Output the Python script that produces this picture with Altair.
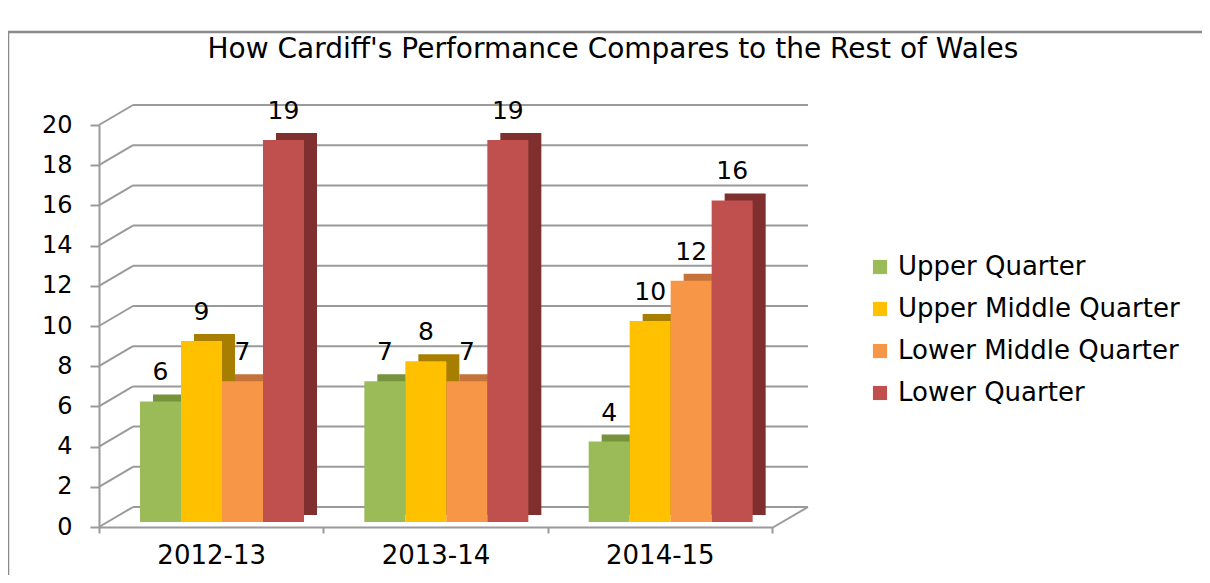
import altair as alt
import pandas as pd

# ---- data ----
years = ["2012-13", "2013-14", "2014-15"]
series = ["Upper Quarter", "Upper Middle Quarter", "Lower Middle Quarter", "Lower Quarter"]
upper_quarter = [6, 7, 4]
upper_middle_quarter = [9, 8, 10]
lower_middle_quarter = [7, 7, 12]
lower_quarter = [19, 19, 16]
y_ticks = [0, 2, 4, 6, 8, 10, 12, 14, 16, 18, 20]
title_text = "How Cardiff's Performance Compares to the Rest of Wales"

front_colors = ["#9BBB59", "#FFC000", "#F79646", "#C0504D"]
shade_colors = ["#77933C", "#A87E00", "#C5733A", "#7F302E"]

values = [upper_quarter, upper_middle_quarter, lower_middle_quarter, lower_quarter]
rows = []
for s, vals in zip(series, values):
    for y, v in zip(years, vals):
        rows.append({"year": y, "series": s, "value": v})
df = pd.DataFrame(rows)
ticks_df = pd.DataFrame({"tick": y_ticks})
title_df = pd.DataFrame({"t": [title_text]})

W, H = 673, 402
GRID = "#9A9A9A"
FONT = "DejaVu Sans"

yaxis = alt.Axis(title=None, values=y_ticks, labelFontSize=24, labelFont=FONT,
                 labelColor="black", labelPadding=18, tickSize=9, grid=False,
                 domainColor=GRID, tickColor=GRID, domainWidth=2, tickWidth=2)
yscale = alt.Scale(domain=[0, 20], nice=False)

xs = alt.X("year:N", sort=years, scale=alt.Scale(paddingInner=0, paddingOuter=0),
           axis=alt.Axis(title=None, labelFontSize=26, labelFont=FONT, labelColor="black",
                         labelPadding=9, tickSize=6, tickBand="extent", domainColor=GRID,
                         tickColor=GRID, domainWidth=2, tickWidth=2, labelAngle=0, grid=False))
ys = alt.Y("value:Q", scale=yscale, axis=yaxis)
ytick = alt.Y("tick:Q", scale=yscale, axis=yaxis)


def xoff(shift):
    return alt.XOffset("series:N", sort=series,
                       scale=alt.Scale(domain=series, paddingInner=0, paddingOuter=0,
                                       range=[41 + shift, 205 + shift]))


base = alt.Chart(df)

# decorative frame
frame = alt.Chart(title_df).mark_rect(fill=None, stroke="#8A8A8A", strokeWidth=2.5).encode(
    x=alt.value(-91), x2=alt.value(1200), y=alt.value(-93), y2=alt.value(600))

title = alt.Chart(title_df).mark_text(fontSize=28, font=FONT, color="black", align="center",
                                      baseline="alphabetic").encode(
    x=alt.value(514), y=alt.value(-67), text="t:N")

# back-wall gridlines
grid_back = alt.Chart(ticks_df).mark_rule(color=GRID, strokeWidth=2, yOffset=-20).encode(
    x=alt.value(34), x2=alt.value(709), y=ytick)
grid_diag = alt.Chart(ticks_df).mark_rule(color=GRID, strokeWidth=2, y2Offset=-20).encode(
    x=alt.value(0), x2=alt.value(34), y=ytick, y2="tick:Q")
floor_edge = alt.Chart(title_df).mark_rule(color=GRID, strokeWidth=2).encode(
    x=alt.value(W), x2=alt.value(709), y=alt.value(H + 1), y2=alt.value(H - 20))

shade = base.mark_bar(yOffset=-12, y2Offset=-12).encode(
    x=xs, xOffset=xoff(13), y=ys,
    color=alt.Color("series:N", scale=alt.Scale(domain=series, range=shade_colors), legend=None))

front = base.mark_bar(yOffset=-5, y2Offset=-5).encode(
    x=xs, xOffset=xoff(0), y=ys,
    color=alt.Color("series:N", sort=series, scale=alt.Scale(domain=series, range=front_colors),
                    legend=alt.Legend(title=None, orient="none", legendX=768, legendY=129,
                                      labelFontSize=26, labelFont=FONT, labelColor="black",
                                      symbolType="square", symbolSize=200, symbolStrokeWidth=0,
                                      rowPadding=16, labelOffset=5, labelLimit=400)))

labels = base.mark_text(dy=-26, baseline="alphabetic", align="center", fontSize=25,
                        font=FONT, color="black").encode(
    x=xs,
    xOffset=alt.XOffset("series:N", sort=series,
                        scale=alt.Scale(type="point", domain=series, padding=0,
                                        range=[61.5, 184.5])),
    y=ys, text="value:Q")

chart = alt.layer(frame, title, grid_back, grid_diag, floor_edge, shade, front, labels).resolve_scale(
    color="independent", xOffset="independent"
).properties(
    width=W, height=H,
    padding={"left": 91, "top": 117, "right": 430, "bottom": 48},
    autosize=alt.AutoSizeParams(type="none"),
).configure(
    background="white",
    view={"stroke": "transparent", "strokeWidth": 0},
    style={"cell": {"stroke": "transparent", "strokeWidth": 0}},
)

chart.save("out.html", embed_options={"renderer": "svg", "actions": False})
